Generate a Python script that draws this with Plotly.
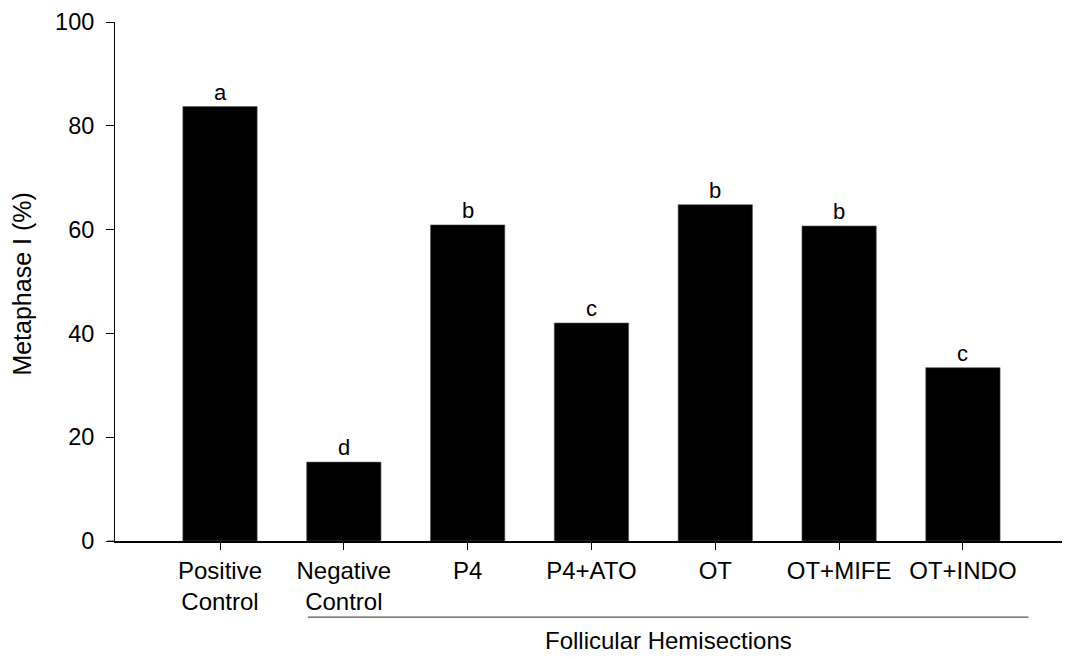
import plotly.graph_objects as go

# Treatment groups and the share of oocytes reaching metaphase I
categories = ["Positive<br>Control", "Negative<br>Control", "P4", "P4+ATO",
              "OT", "OT+MIFE", "OT+INDO"]
metaphase_pct = [83.7, 15.2, 60.9, 42.0, 64.8, 60.7, 33.4]
sig_letters = ["a", "d", "b", "c", "b", "b", "c"]
y_ticks = [0, 20, 40, 60, 80, 100]

FONT = "Liberation Sans, Arial, sans-serif"
idx = list(range(len(categories)))

fig = go.Figure()
fig.add_trace(go.Bar(
    x=idx, y=metaphase_pct, width=0.6,
    marker=dict(color="black", line=dict(color="#555555", width=0.6)),
    showlegend=False, hoverinfo="skip",
))

# Significance letters above each bar
for i, (v, lab) in enumerate(zip(metaphase_pct, sig_letters)):
    fig.add_annotation(x=i, y=v, text=lab, showarrow=False, yanchor="bottom",
                       font=dict(family=FONT, size=22, color="black"),
                       yshift=0)

# Bracket grouping the follicular hemisection treatments
fig.add_shape(type="line", xref="x", yref="paper", x0=0.71, x1=6.53,
              y0=-0.1467, y1=-0.1467, line=dict(color="#555555", width=1.2))
fig.add_annotation(xref="x", yref="paper", x=3.62, y=-0.1925,
                   text="Follicular Hemisections", showarrow=False,
                   yanchor="middle",
                   font=dict(family=FONT, size=24, color="black"))

# Y-axis title, placed as a rotated annotation
fig.add_annotation(xref="paper", yref="paper", x=-0.0982, y=0.494,
                   text="Metaphase I (%)", showarrow=False, textangle=-90,
                   xanchor="center", yanchor="middle",
                   font=dict(family=FONT, size=25, color="black"))

# Short extension of the baseline to the left of the y axis
fig.add_shape(type="line", xref="paper", yref="y", x0=-8 / 947, x1=0,
              y0=0, y1=0, line=dict(color="#444444", width=1))

fig.update_layout(
    width=1065, height=659,
    margin=dict(l=115, r=3, t=22, b=117.5),
    plot_bgcolor="white", paper_bgcolor="white",
    font=dict(family=FONT, size=23, color="black"),
    bargap=0.4,
)
fig.update_xaxes(
    range=[-0.848, 6.80], tickmode="array", tickvals=idx, ticktext=categories,
    showline=True, linecolor="black", linewidth=1.5,
    ticks="outside", ticklen=7, tickwidth=1, tickcolor="black",
    showgrid=False, zeroline=False, tickangle=0,
    tickfont=dict(family=FONT, size=24, color="black"),
)
fig.update_yaxes(
    range=[0, 100], tickmode="array", tickvals=y_ticks,
    showline=True, linecolor="black", linewidth=1,
    ticks="outside", ticklen=8, tickwidth=1, tickcolor="black",
    ticklabelstandoff=7,
    showgrid=False, zeroline=False,
    tickfont=dict(family=FONT, size=23.5, color="black"),
)

fig.write_html("out.html")
